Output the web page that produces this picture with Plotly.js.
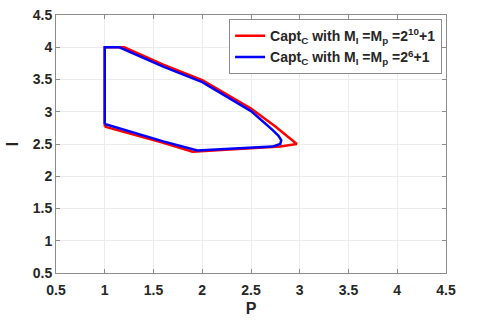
<!DOCTYPE html>
<html>
<head>
<meta charset="utf-8">
<script src="https://cdn.plot.ly/plotly-3.0.1.min.js"></script>
<style>body{margin:0;background:#fff}</style>
</head>
<body>
<div id="chart" style="width:488px;height:323px"></div>
<script>
// red: M_I = M_p = 2^10+1
const redP = [1, 1, 1.2, 1.6, 2.0, 2.5, 2.75, 2.97, 2.8, 2.5, 2.0, 1.9, 1.6, 1.0]
const redI = [2.77, 4.0, 4.0, 3.73, 3.49, 3.05, 2.77, 2.5, 2.46, 2.43, 2.39, 2.38, 2.52, 2.77]
// blue: M_I = M_p = 2^6+1
const blueP = [1, 1, 1.15, 1.6, 2.0, 2.5, 2.72, 2.78, 2.81, 2.8, 2.72, 2.5, 2.1, 1.95, 1.6, 1.0]
const blueI = [2.81, 4.0, 4.0, 3.7, 3.46, 3.01, 2.72, 2.63, 2.56, 2.5, 2.46, 2.44, 2.41, 2.40, 2.54, 2.81]

const names = [
    '<b>Capt<sub>C</sub> with M<sub>I</sub> =M<sub>p</sub> =2<sup>10</sup>+1</b>',
    '<b>Capt<sub>C</sub> with M<sub>I</sub> =M<sub>p</sub> =2<sup>6</sup>+1</b>'
]

const font = { family: 'Liberation Sans, Arial, sans-serif', size: 14, color: '#262626', weight: 'bold' }

let data = [
    { x: redP, y: redI, mode: 'lines', name: names[0], line: { color: '#ff0000', width: 2.5 } },
    { x: blueP, y: blueI, mode: 'lines', name: names[1], line: { color: '#0000ff', width: 2.5 } },
]

const axis = {
    range: [0.5, 4.5],
    dtick: 0.5,
    tick0: 0.5,
    showgrid: true,
    gridcolor: '#ececec',
    zeroline: false,
    showline: true,
    linecolor: '#8c8c8c',
    linewidth: 1,
    mirror: 'ticks',
    ticks: 'inside',
    ticklen: 4,
    tickcolor: '#8c8c8c',
    tickfont: font,
}

const layout = {
    width: 488,
    height: 323,
    margin: { l: 56, r: 42, t: 15, b: 50 },
    paper_bgcolor: '#fff',
    plot_bgcolor: '#fff',
    font: font,
    xaxis: Object.assign({}, axis, { title: { text: '<b>P</b>', font: { size: 16 }, standoff: 6 }, ticklabelstandoff: 4 }),
    yaxis: Object.assign({}, axis, { title: { text: '<b>I</b>', font: { size: 16 }, standoff: 10 } }),
    showlegend: true,
    legend: {
        x: 0.99, y: 0.984,
        xanchor: 'right', yanchor: 'top',
        bgcolor: '#fff',
        bordercolor: '#8c8c8c',
        borderwidth: 1,
        font: { size: 14 },
        itemwidth: 30,
        tracegroupgap: 4,
    },
}

Plotly.newPlot('chart', data, layout, { displayModeBar: false })
</script>
</body>
</html>
